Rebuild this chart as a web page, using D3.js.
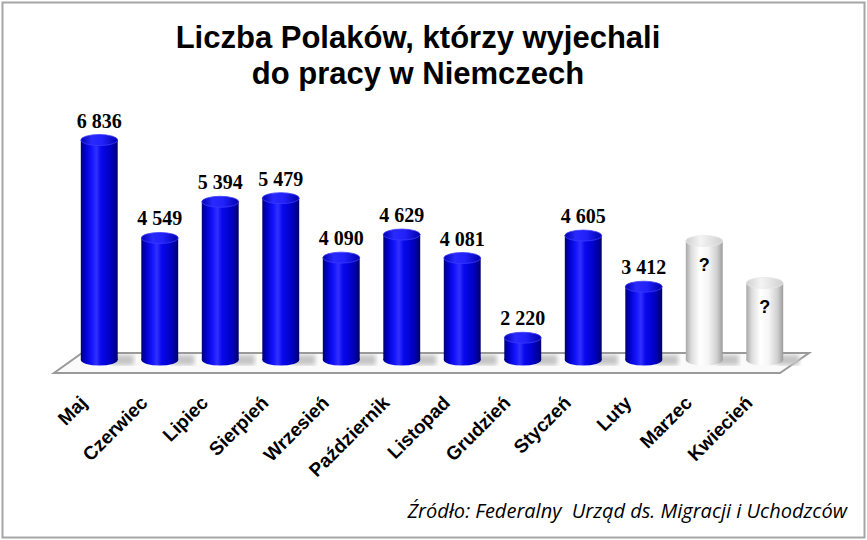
<!DOCTYPE html>
<html>
<head>
<meta charset="utf-8">
<script src="https://cdn.jsdelivr.net/npm/d3@7"></script>
<style>
  html, body { margin: 0; padding: 0; background: #fff; }
  svg { display: block; }
  .title { font-family: "Liberation Sans", Arial, sans-serif; font-weight: bold; font-size: 31px; fill: #000; }
  .value { font-family: "Liberation Serif", "Times New Roman", serif; font-weight: bold; font-size: 20px; fill: #000; }
  .question { font-family: "Liberation Sans", Arial, sans-serif; font-weight: bold; font-size: 18px; fill: #000; }
  .cat { font-family: "Liberation Sans", Arial, sans-serif; font-weight: bold; font-size: 19px; fill: #000; }
  .source { font-family: "Open Sans", sans-serif; font-style: italic; font-size: 20px; fill: #000; white-space: pre; }
</style>
</head>
<body>
<div id="chart"></div>
<script>
// chart data
const months = ['Maj', 'Czerwiec', 'Lipiec', 'Sierpień', 'Wrzesień', 'Październik',
                'Listopad', 'Grudzień', 'Styczeń', 'Luty', 'Marzec', 'Kwiecień'];
const values = [6836, 4549, 5394, 5479, 4090, 4629, 4081, 2220, 4605, 3412, 4480, 3500];
const valueLabels = ['6 836', '4 549', '5 394', '5 479', '4 090', '4 629',
                     '4 081', '2 220', '4 605', '3 412', '?', '?'];
const unknown = [false, false, false, false, false, false, false, false, false, false, true, true];
const axisRange = [1700, 7000];
const titleLines = ['Liczba Polaków, którzy wyjechali', 'do pracy w Niemczech'];
const sourceText = 'Źródło: Federalny  Urząd ds. Migracji i Uchodzców';

class CylinderChart {
  constructor(args) {
    this.element = args.element;
    this.width = 867;
    this.height = 540;
    this.draw();
  }

  draw() {
    this._svg = d3.select(this.element).append('svg')
      .attr('width', this.width)
      .attr('height', this.height);

    this.addDefs();
    this.createScales();
    this.addFrame();
    this.addFloor();
    this.addBars();
    this.addLabels();
  }

  createScales() {
    this._xScale = d3.scaleBand()
      .domain(months)
      .range([69, 795])
      .paddingInner(0.39)
      .paddingOuter(0.195);

    this._yScale = d3.scaleLinear()
      .domain(axisRange)
      .range([360, 133]);
  }

  addDefs() {
    const defs = this._svg.append('defs');
    const grad = (id, stops) => {
      const g = defs.append('linearGradient').attr('id', id)
        .attr('x1', 0).attr('x2', 1).attr('y1', 0).attr('y2', 0);
      stops.forEach(s => g.append('stop').attr('offset', s[0]).attr('stop-color', s[1]));
    };
    grad('blueBody', [[0, '#000078'], [0.12, '#0000c8'], [0.3, '#1414ff'], [0.42, '#3030ff'],
                      [0.55, '#0808ee'], [0.82, '#0000c0'], [1, '#00006a']]);
    grad('blueTop', [[0, '#0000b0'], [0.3, '#2a2aff'], [0.6, '#2020f8'], [1, '#0000a8']]);
    grad('whiteBody', [[0, '#a8a8a8'], [0.15, '#dcdcdc'], [0.38, '#ffffff'], [0.6, '#f6f6f6'],
                       [0.85, '#cfcfcf'], [1, '#9c9c9c']]);
    grad('whiteTop', [[0, '#cfcfcf'], [0.4, '#f4f4f4'], [1, '#d0d0d0']]);

    defs.append('filter').attr('id', 'blur')
      .append('feGaussianBlur').attr('stdDeviation', 2);
  }

  addFrame() {
    this._svg.append('rect')
      .attr('x', 2.5).attr('y', 2.5)
      .attr('width', this.width - 5).attr('height', this.height - 5)
      .attr('fill', '#fff')
      .attr('stroke', '#a6a6a6')
      .attr('stroke-width', 2);

    this._svg.append('g').selectAll('text')
      .data(titleLines)
      .enter().append('text')
      .attr('class', 'title')
      .attr('x', 418)
      .attr('y', (d, i) => 48 + i * 36)
      .attr('text-anchor', 'middle')
      .text(d => d);

    this._svg.append('text')
      .attr('class', 'source')
      .attr('x', 847)
      .attr('y', 518)
      .attr('text-anchor', 'end')
      .text(sourceText);
  }

  addFloor() {
    const [x0, x1] = this._xScale.range();
    const base = this._yScale(axisRange[0]);
    const back = base - 7, front = base + 13;
    const pts = [[x0 + 13, back], [x1 + 14, back], [x1 - 15, front], [x0 - 15, front]];

    this._svg.append('polygon')
      .attr('points', pts.map(p => p.join(',')).join(' '))
      .attr('fill', '#fafafa')
      .attr('stroke', '#9a9a9a')
      .attr('stroke-width', 2);

    // soft shadows behind the cylinders
    const bw = this._xScale.bandwidth();
    this._svg.append('g').selectAll('rect')
      .data(months)
      .enter().append('rect')
      .attr('x', d => this._xScale(d) + bw - 6)
      .attr('y', back + 2)
      .attr('width', 22)
      .attr('height', 10)
      .attr('fill', '#c4c4c4')
      .attr('filter', 'url(#blur)');
  }

  addBars() {
    const bw = this._xScale.bandwidth();
    const base = this._yScale(axisRange[0]);
    const ry = 5.5;

    const bars = this._svg.append('g').selectAll('g')
      .data(months.map((m, i) => ({ month: m, value: values[i], unknown: unknown[i] })))
      .enter().append('g');

    bars.append('rect')
      .attr('x', d => this._xScale(d.month))
      .attr('y', d => this._yScale(d.value))
      .attr('width', bw)
      .attr('height', d => base - this._yScale(d.value))
      .attr('fill', d => d.unknown ? 'url(#whiteBody)' : 'url(#blueBody)');

    bars.append('ellipse')
      .attr('cx', d => this._xScale(d.month) + bw / 2)
      .attr('cy', base)
      .attr('rx', bw / 2)
      .attr('ry', ry)
      .attr('fill', d => d.unknown ? 'url(#whiteBody)' : 'url(#blueBody)');

    bars.append('ellipse')
      .attr('cx', d => this._xScale(d.month) + bw / 2)
      .attr('cy', d => this._yScale(d.value))
      .attr('rx', bw / 2)
      .attr('ry', ry)
      .attr('fill', d => d.unknown ? 'url(#whiteTop)' : 'url(#blueTop)')
      .attr('stroke', d => d.unknown ? '#e8e8e8' : '#3a3aff')
      .attr('stroke-width', 0.8);
  }

  addLabels() {
    const bw = this._xScale.bandwidth();
    const cx = m => this._xScale(m) + bw / 2;

    // values above the cylinders, "?" inside the unknown ones
    this._svg.append('g').selectAll('text')
      .data(months)
      .enter().append('text')
      .attr('class', (d, i) => unknown[i] ? 'question' : 'value')
      .attr('x', d => cx(d))
      .attr('y', (d, i) => this._yScale(values[i]) + (unknown[i] ? 30 : -12.5))
      .attr('text-anchor', 'middle')
      .text((d, i) => valueLabels[i]);

    // rotated category labels
    const base = this._yScale(axisRange[0]);
    this._svg.append('g').selectAll('text')
      .data(months)
      .enter().append('text')
      .attr('class', 'cat')
      .attr('text-anchor', 'end')
      .attr('transform', d => `translate(${cx(d) - 11},${base + 44}) rotate(-45)`)
      .text(d => d);
  }
}

new CylinderChart({ element: '#chart' });
</script>
</body>
</html>
